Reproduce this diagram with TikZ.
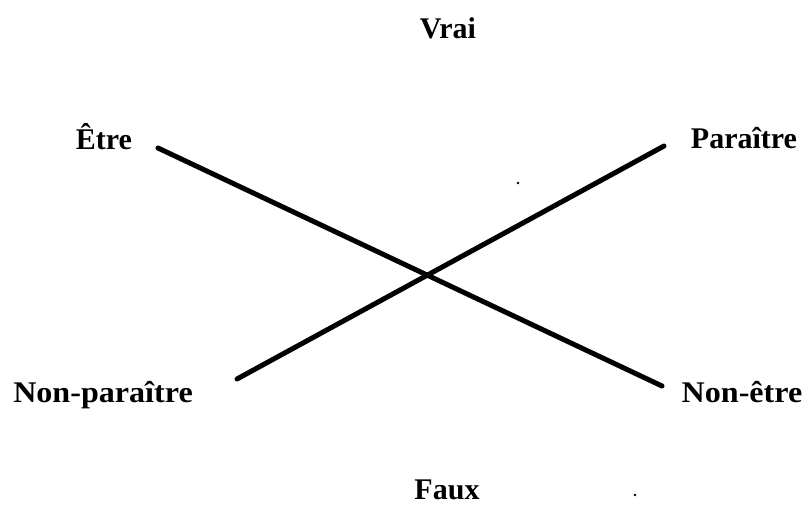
\documentclass[tikz,border=0pt]{standalone}
\usepackage{fontspec}
\setmainfont{Liberation Serif}
\begin{document}
\begin{tikzpicture}[x=1pt,y=-1pt,
  lbl/.style={anchor=base,inner sep=0pt,font=\fontsize{30}{36}\selectfont\bfseries},
  widelbl/.style={lbl,xscale=1.07},
  bar/.style={line width=5pt,line cap=round}]
\useasboundingbox (0,0) rectangle (809,504);
\node[lbl] (vrai) at (448,38) {Vrai};
\node[lbl] (faux) at (447,499) {Faux};
\node[lbl] (etre) at (104,149) {Être};
\node[lbl] (paraitre) at (744,148) {Paraître};
\node[widelbl] (nonparaitre) at (103,402) {Non-paraître};
\node[widelbl] (nonetre) at (742,402) {Non-être};
\coordinate (e1) at (158,148);
\coordinate (e2) at (662,386);
\coordinate (p1) at (237,379);
\coordinate (p2) at (664,146);
\draw[bar] (e1) -- (e2);
\draw[bar] (p1) -- (p2);
\fill (518,183) circle (1.3pt);
\fill (635,495) circle (1.3pt);
\end{tikzpicture}
\end{document}
